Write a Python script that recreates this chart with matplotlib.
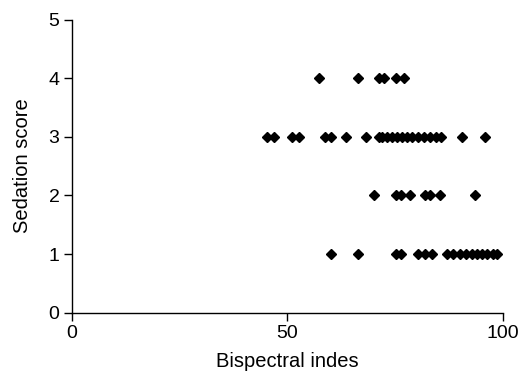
import numpy as np
import matplotlib
matplotlib.use('Agg')
import matplotlib.pyplot as plt

plt.rcParams['font.family'] = ['Liberation Sans', 'DejaVu Sans']

# Bispectral index values for each sedation score
bis_score4 = [57.4, 66.4, 71.3, 72.4, 75.3, 77.1]
bis_score3 = [45.2, 46.9, 51.0, 52.8, 58.7, 60.2, 63.6, 68.2, 71.2, 72.1, 73.1,
              74.2, 75.4, 76.6, 77.7, 78.9, 80.3, 81.7, 83.1, 84.5, 85.6,
              90.5, 95.8]
bis_score2 = [70.2, 75.3, 76.5, 78.4, 81.9, 83.1, 85.4, 93.5]
bis_score1 = [60.2, 66.4, 75.3, 76.3, 80.3, 81.9, 83.5, 87.0, 88.4, 90.0,
              91.6, 92.8, 94.0, 95.1, 96.3, 97.7, 98.8]

scores = [4, 3, 2, 1]
groups = [bis_score4, bis_score3, bis_score2, bis_score1]

fig = plt.figure(figsize=(5.23, 3.78), dpi=100)
ax = fig.add_axes([0.1377, 0.1728, 0.8233, 0.7755])

for s, vals in zip(scores, groups):
    ax.plot(vals, np.full(len(vals), s), linestyle='none', marker='D',
            markersize=5.4, color='black', clip_on=False)

ax.set_xlim(0, 100)
ax.set_ylim(0, 5)
ax.set_xticks([0, 50, 100])
ax.set_yticks([0, 1, 2, 3, 4, 5])

for side in ['top', 'right']:
    ax.spines[side].set_visible(False)
for side in ['left', 'bottom']:
    ax.spines[side].set_linewidth(1.0)

ax.tick_params(axis='both', direction='out', length=6, width=1.0,
               labelsize=14, pad=3)

ax.set_xlabel('Bispectral indes', fontsize=14.5, labelpad=7)
ax.set_ylabel('Sedation score', fontsize=14.5, labelpad=12)

fig.savefig('out.png', dpi=100)
